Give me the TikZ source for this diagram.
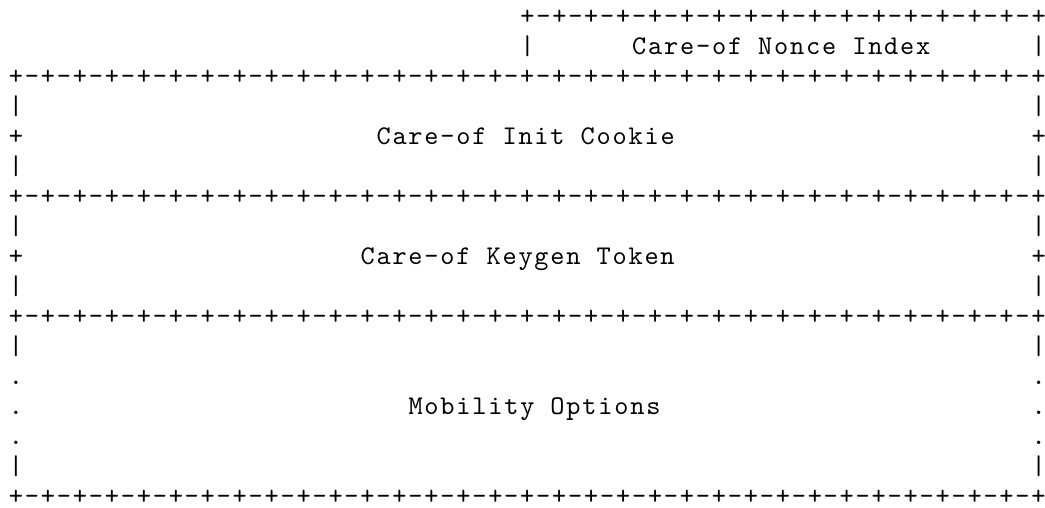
\documentclass[tikz,border=0pt]{standalone}
\usepackage{fontspec}
\newfontfamily\asciifont[LetterSpace=6.67]{lmmono10-regular.otf}
\def\pp{+-}
\def\pq{\pp\pp\pp\pp}
\def\halfline{\pq\pq\pq\pq}
\newcommand\asc[4]{\node[asc] (#1) at ({9+#2*15.98},{24.5+#3*30.0}) {#4};}
\begin{document}
\begin{tikzpicture}[x=1pt,y=-1pt,
  asc/.style={inner sep=0pt, outer sep=0pt, anchor=base west,
    font=\asciifont\fontsize{27}{30}\selectfont, text=black}]
\useasboundingbox[fill=white] (0,0) rectangle (1045,507);
% row 0 and 1: Care-of Nonce Index field
\asc{top}{32}{0}{\halfline+}
\asc{nl}{32}{1}{|}
\asc{nonce}{39}{1}{Care-of Nonce Index}
\asc{nr}{64}{1}{|}
% separator lines
\asc{sepA}{0}{2}{\halfline\halfline+}
\asc{sepB}{0}{6}{\halfline\halfline+}
\asc{sepC}{0}{10}{\halfline\halfline+}
\asc{sepD}{0}{16}{\halfline\halfline+}
% side characters
\foreach \r/\c in {3/|,4/+,5/|,7/|,8/+,9/|,11/|,12/.,13/.,14/.,15/|}{
  \asc{l\r}{0}{\r}{\c}
  \asc{r\r}{64}{\r}{\c}
}
% field labels
\asc{cookie}{23}{4}{Care-of Init Cookie}
\asc{keygen}{22}{8}{Care-of Keygen Token}
\asc{mobility}{25}{13}{Mobility Options}
\end{tikzpicture}
\end{document}
